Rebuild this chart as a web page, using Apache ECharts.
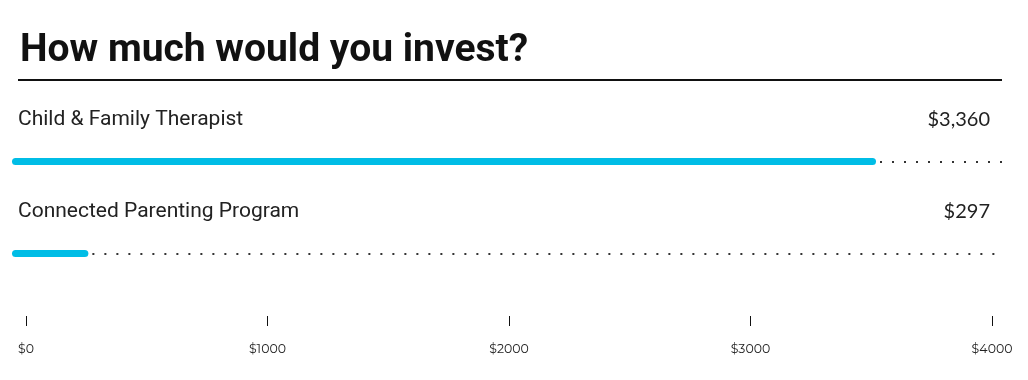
<!DOCTYPE html>
<html>
<head>
<meta charset="utf-8">
<script src="https://cdn.jsdelivr.net/npm/echarts@6/dist/echarts.min.js"></script>
<style>html,body{margin:0;padding:0;background:#fff;}#c{width:1028px;height:380px;}</style>
</head>
<body>
<div id="c"></div>
<script>
const categories = ['Child & Family Therapist', 'Connected Parenting Program'];
const values = [3360, 297];
const valueLabels = ['$3,360', '$297'];
const trackMax = 3850;
const axisTicks = [0, 1000, 2000, 3000, 4000];

const chart = echarts.init(document.getElementById('c'));
const fontName = 'Roboto';
const fontNum = 'Lato';
chart.setOption({
  animation: false,
  backgroundColor: '#fff',
  title: {
    text: 'How much would you invest?',
    left: 15, top: 27,
    textStyle: { fontFamily: fontName, fontSize: 39, fontWeight: 'bold', color: '#111' }
  },
  graphic: [{ type: 'rect', left: 18, top: 79, shape: { width: 984, height: 2 }, style: { fill: '#111' } }],
  grid: [
    { left: 12, width: 990, top: 115.5, height: 184 },
    { left: 26, width: 966, top: 316, height: 0 }
  ],
  xAxis: [
    { gridIndex: 0, type: 'value', min: 0, max: trackMax, show: false },
    { gridIndex: 1, type: 'value', min: axisTicks[0], max: axisTicks[axisTicks.length - 1], interval: 1000, position: 'top',
      axisLine: { show: false }, splitLine: { show: false },
      axisTick: { show: true, inside: true, length: 10, lineStyle: { color: '#111', width: 1 } },
      axisLabel: { show: false } },
    { gridIndex: 1, type: 'value', min: axisTicks[0], max: axisTicks[axisTicks.length - 1], interval: 1000, position: 'bottom',
      axisLine: { show: false }, splitLine: { show: false }, axisTick: { show: false },
      axisLabel: { margin: 27, fontFamily: 'Montserrat, Lato', fontSize: 12.5, color: '#222', formatter: v => '$' + v } }
  ],
  yAxis: [
    { gridIndex: 0, type: 'category', data: categories, inverse: true, show: false },
    { gridIndex: 1, type: 'category', data: ['a'], show: false }
  ],
  series: [
    {
      type: 'bar', xAxisIndex: 0, yAxisIndex: 0, barWidth: 7, barGap: '-100%',
      data: categories.map(() => trackMax),
      itemStyle: { color: 'rgba(0,0,0,0)' },
      label: { show: true, position: [6, -38], verticalAlign: 'middle', align: 'left',
        fontFamily: fontName, fontSize: 21, color: '#222', formatter: p => categories[p.dataIndex] },
      silent: true, z: 1
    },
    {
      type: 'bar', xAxisIndex: 0, yAxisIndex: 0, barWidth: 7, barGap: '-100%',
      data: categories.map(() => trackMax),
      itemStyle: { color: 'rgba(0,0,0,0)' },
      label: { show: true, position: ['100%', -38], verticalAlign: 'middle', align: 'right', offset: [-12, 0],
        fontFamily: fontNum, fontSize: 20, color: '#222', formatter: p => valueLabels[p.dataIndex] },
      silent: true, z: 1
    },
    {
      type: 'bar', xAxisIndex: 0, yAxisIndex: 0, barWidth: 7, barGap: '-100%',
      data: values,
      itemStyle: { color: '#00BDE6', borderRadius: 4 },
      z: 3,
      markLine: {
        silent: true, symbol: ['none', 'none'], label: { show: false },
        lineStyle: { type: [2, 10], dashOffset: -4, width: 2, color: '#333', cap: 'butt' },
        data: categories.map((c, i) => [{ coord: [values[i], c] }, { coord: [trackMax, c] }])
      }
    }
  ]
});
</script>
</body>
</html>
